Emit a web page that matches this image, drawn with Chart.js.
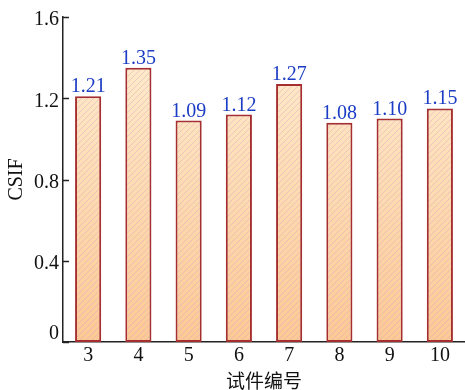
<!DOCTYPE html>
<html>
<head>
<meta charset="utf-8">
<script src="https://cdn.jsdelivr.net/npm/chart.js@4/dist/chart.umd.min.js"></script>
<style>
html,body{margin:0;padding:0;background:#fff;}
#wrap{width:465px;height:390px;position:relative;}
</style>
</head>
<body>
<div id="wrap"><canvas id="c" width="465" height="390"></canvas></div>
<script>
const categories = ['3','4','5','6','7','8','9','10'];
const csifValues = [1.21, 1.35, 1.09, 1.12, 1.27, 1.08, 1.10, 1.15];
const yTicks = [0, 0.4, 0.8, 1.2, 1.6];
const xTitle = '试件编号';
const yTitle = 'CSIF';

const SERIF = '"Liberation Serif", "Times New Roman", serif';

let patCache = null;
function barFill(context) {
  const chart = context.chart;
  const area = chart.chartArea;
  if (!area) return '#fdd9ad';
  const key = area.top + '_' + area.bottom + '_' + chart.width + '_' + chart.height;
  if (patCache && patCache.key === key) return patCache.pat;
  const off = document.createElement('canvas');
  off.width = chart.width; off.height = chart.height;
  const g = off.getContext('2d');
  const grad = g.createLinearGradient(0, area.top, 0, area.bottom);
  grad.addColorStop(0, '#fef0d2');
  grad.addColorStop(1, '#fcc994');
  g.fillStyle = grad;
  g.fillRect(0, 0, off.width, off.height);
  g.strokeStyle = 'rgba(220,160,200,0.45)';
  g.lineWidth = 1;
  const H = off.height, W = off.width;
  for (let s = -H; s < W + H; s += 6) {
    g.beginPath();
    g.moveTo(s, H);
    g.lineTo(s + H, 0);
    g.stroke();
  }
  const pat = chart.ctx.createPattern(off, 'no-repeat');
  patCache = {key, pat};
  return pat;
}

const valueLabels = {
  id: 'valueLabels',
  afterDatasetsDraw(chart) {
    const ctx = chart.ctx;
    const meta = chart.getDatasetMeta(0);
    ctx.save();
    ctx.font = '20px ' + SERIF;
    ctx.fillStyle = '#1b3cc4';
    ctx.textAlign = 'center';
    ctx.textBaseline = 'alphabetic';
    meta.data.forEach((el, i) => {
      ctx.fillText(csifValues[i].toFixed(2), el.x, el.y - 4);
    });
    ctx.restore();
  }
};

const innerTicks = {
  id: 'innerTicks',
  afterDraw(chart) {
    const y = chart.scales.y;
    const ctx = chart.ctx;
    ctx.save();
    ctx.strokeStyle = '#222';
    ctx.lineWidth = 1.5;
    yTicks.forEach(v => {
      const py = Math.round(y.getPixelForValue(v)) + 0.5;
      ctx.beginPath();
      ctx.moveTo(y.right, py);
      ctx.lineTo(y.right + 6, py);
      ctx.stroke();
    });
    ctx.restore();
  }
};

new Chart(document.getElementById('c'), {
  type: 'bar',
  data: {
    labels: categories,
    datasets: [{
      data: csifValues,
      backgroundColor: barFill,
      borderColor: '#a52f2f',
      borderWidth: 2,
      borderSkipped: false,
      categoryPercentage: 1,
      barPercentage: 0.52
    }]
  },
  options: {
    responsive: false,
    animation: false,
    devicePixelRatio: 1,
    layout: { padding: { top: 17, right: 0, left: 0, bottom: 0 } },
    plugins: { legend: { display: false }, tooltip: { enabled: false } },
    scales: {
      x: {
        grid: { display: false, drawTicks: false },
        border: { display: true, color: '#222', width: 1.5 },
        ticks: { color: '#111', font: { family: SERIF, size: 20 }, padding: 2 },
        title: { display: true, text: xTitle, color: '#111',
          font: { family: '"Noto Sans CJK SC", sans-serif', size: 19, lineHeight: 1 },
          padding: { top: 0, bottom: 0 } },
        afterFit(s) { s.height = 48; }
      },
      y: {
        min: 0, max: 1.6,
        afterBuildTicks(s) { s.ticks = yTicks.map(v => ({ value: v })); },
        grid: { display: false, drawTicks: false },
        border: { display: true, color: '#222', width: 1.5 },
        ticks: { color: '#111', font: { family: SERIF, size: 20, lineHeight: 1.1 }, padding: 4,
          labelOffset: 3,
          callback: v => (v === 0 ? ['0', ''] : v.toFixed(1)) },
        title: { display: true, text: yTitle, color: '#111',
          font: { family: SERIF, size: 20, lineHeight: 1.2 },
          padding: { top: 5, bottom: 0 } },
        afterFit(s) { s.width = 63; }
      }
    }
  },
  plugins: [valueLabels, innerTicks]
});
</script>
</body>
</html>
